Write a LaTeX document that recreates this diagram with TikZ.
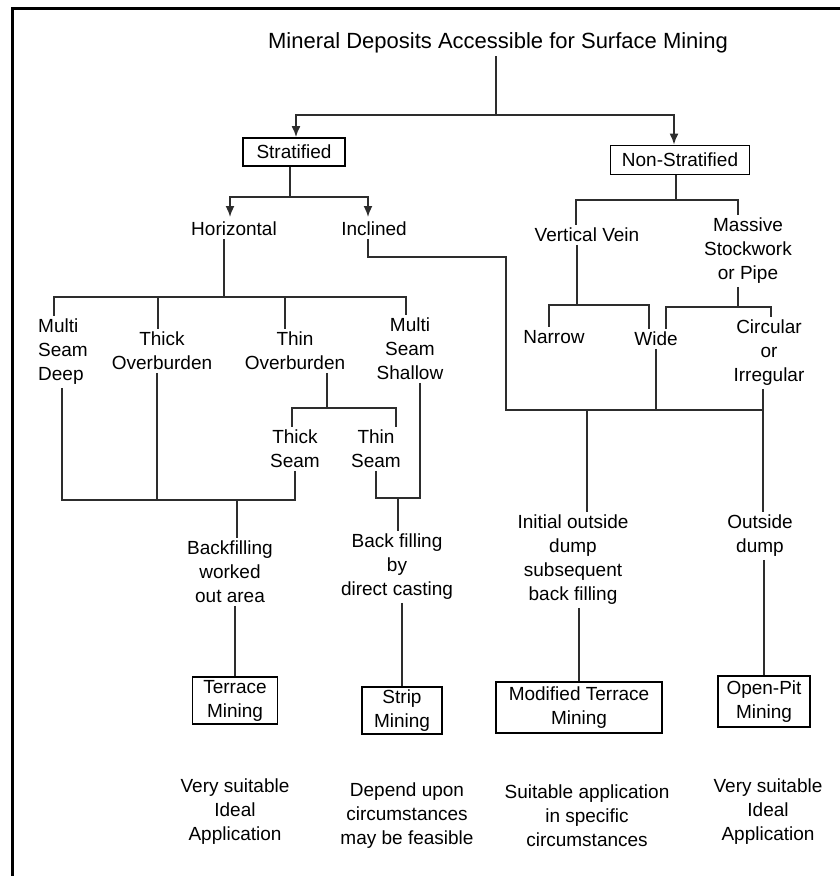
\documentclass[tikz,border=0pt]{standalone}
\usepackage{fontspec}
\setmainfont{Liberation Sans}
\usetikzlibrary{arrows.meta}
\definecolor{line1}{RGB}{45, 45, 45}

\begin{document}
\begin{tikzpicture}[x=1pt, y=-1pt, line width=1.9pt,
  txt/.style={align=center, inner sep=2pt, font=\fontsize{19}{24}\selectfont},
  box/.style={txt, draw=black, line width=1.7pt, inner sep=0pt},
  tip/.style={-{Latex[length=11pt,width=9pt]}}]
  \useasboundingbox (0,0) rectangle (839,876);
  \draw[line width=3pt] (12,880) -- (12,8) -- (842,8);

  \node[txt, font=\fontsize{22}{26}\selectfont] (title) at (498,43) {Mineral Deposits Accessible for Surface Mining};
  \node[box, minimum width=102pt, minimum height=28pt] (strat) at (294,152) {Stratified};
  \node[box, minimum width=139pt, minimum height=29pt] (nonstrat) at (680,160) {Non-Stratified};

  \node[txt] (horiz) at (234,229) {Horizontal};
  \node[txt] (incl) at (374,229) {Inclined};
  \node[txt] (vvein) at (587,235) {Vertical Vein};
  \node[txt] (massive) at (748,251) {Massive\\Stockwork\\or Pipe};

  \node[txt, align=left] (msdeep) at (63,352) {Multi\\Seam\\Deep};
  \node[txt] (thickob) at (162,351) {Thick\\Overburden};
  \node[txt] (thinob) at (295,351) {Thin\\Overburden};
  \node[txt] (msshal) at (410,349) {Multi\\Seam\\Shallow};
  \node[txt] (narrow) at (554,337) {Narrow};
  \node[txt] (wide) at (656,339) {Wide};
  \node[txt] (circ) at (769,353) {Circular\\or\\Irregular};
  \node[txt] (thickseam) at (295,449) {Thick\\Seam};
  \node[txt] (thinseam) at (376,449) {Thin\\Seam};

  \node[txt] (bfworked) at (230,572) {Backfilling\\worked\\out area};
  \node[txt] (bfcast) at (397,567) {Back filling\\by\\direct casting};
  \node[txt] (initdump) at (573,560) {Initial outside\\dump\\subsequent\\back filling};
  \node[txt] (outdump) at (760,536) {Outside\\dump};

  \node[box, minimum width=85pt, minimum height=47pt] (terrace) at (235,700.5) {Terrace\\Mining};
  \node[box, minimum width=80pt, minimum height=47pt] (strip) at (402,710.5) {Strip\\Mining};
  \node[box, minimum width=166pt, minimum height=51pt] (modterr) at (579,707.5) {Modified Terrace\\Mining};
  \node[box, minimum width=92pt, minimum height=51pt] (openpit) at (764,701.5) {Open-Pit\\Mining};

  \node[txt] (suit1) at (235,812) {Very suitable\\Ideal\\Application};
  \node[txt] (depend) at (407,816) {Depend upon\\circumstances\\may be feasible};
  \node[txt] (specific) at (587,816) {Suitable application\\in specific\\circumstances};
  \node[txt] (suit2) at (768,812) {Very suitable\\Ideal\\Application};

  % junctions
  \coordinate (c0) at (496,115);
  \coordinate (c1) at (290,197);
  \coordinate (c2) at (224,297);
  \coordinate (c3) at (237,500);
  \coordinate (c4) at (327,408);
  \coordinate (c5) at (398,498);
  \coordinate (c6) at (506,257);
  \coordinate (c7) at (587,410);
  \coordinate (c8) at (763,410);
  \coordinate (c9) at (676,200);
  \coordinate (c10) at (577,305);
  \coordinate (c11) at (738,307);

  \begin{scope}[draw=line1]
  \draw (title.south -| c0) -- (c0);
  \draw[tip] (c0) -| ([xshift=2pt]strat.north);
  \draw[tip] (c0) -| ([xshift=-6pt]nonstrat.north);
  \draw (strat.south -| c1) -- (c1);
  \draw[tip] (c1) -| ([xshift=-4pt,yshift=2pt]horiz.north);
  \draw[tip] (c1) -| ([xshift=-6pt,yshift=2pt]incl.north);

  \draw (horiz.south -| c2) -- (c2);
  \draw (c2) -| ([xshift=-9pt]msdeep.north);
  \draw (c2) -| ([xshift=-4pt]thickob.north);
  \draw (c2) -| ([xshift=-10pt]thinob.north);
  \draw (c2) -| ([xshift=-4pt]msshal.north);

  \draw ([xshift=-1pt]msdeep.south) |- (c3);
  \draw ([xshift=-5pt]thickob.south) |- (c3);
  \draw (thickseam.south) |- (c3);
  \draw (thinob.south -| c4) -- (c4);
  \draw (c4) -| ([xshift=-3pt]thickseam.north);
  \draw (c4) -| ([xshift=20pt]thinseam.north);
  \draw (thinseam.south) |- (c5);
  \draw ([xshift=10pt]msshal.south) |- (c5);

  \draw ([xshift=-6pt]incl.south) |- (c6) |- (c8);
  \draw (wide.south) -- (wide.south |- c7);
  \draw (circ.south -| c8) -- (c8);

  \draw (nonstrat.south -| c9) -- (c9);
  \draw (c9) -| ([xshift=-11pt]vvein.north);
  \draw (c9) -| ([xshift=-10pt]massive.north);
  \draw (vvein.south -| c10) -- (c10);
  \draw (c10) -| ([xshift=-5pt]narrow.north);
  \draw (c10) -| ([xshift=-7pt]wide.north);
  \draw (massive.south -| c11) -- (c11);
  \draw (c11) -| ([xshift=10pt]wide.north);
  \draw (c11) -| ([xshift=2pt]circ.north);

  \foreach \from/\to in {c3/bfworked, c5/bfcast, c7/initdump, c8/outdump}
    \draw (\from) -- (\to.north -| \from);
  \foreach \from/\to in {bfworked/terrace, bfcast/strip, initdump/modterr, outdump/openpit}
    \draw (\to.north |- \from.south) -- (\to.north);
  \end{scope}
\end{tikzpicture}
\end{document}
